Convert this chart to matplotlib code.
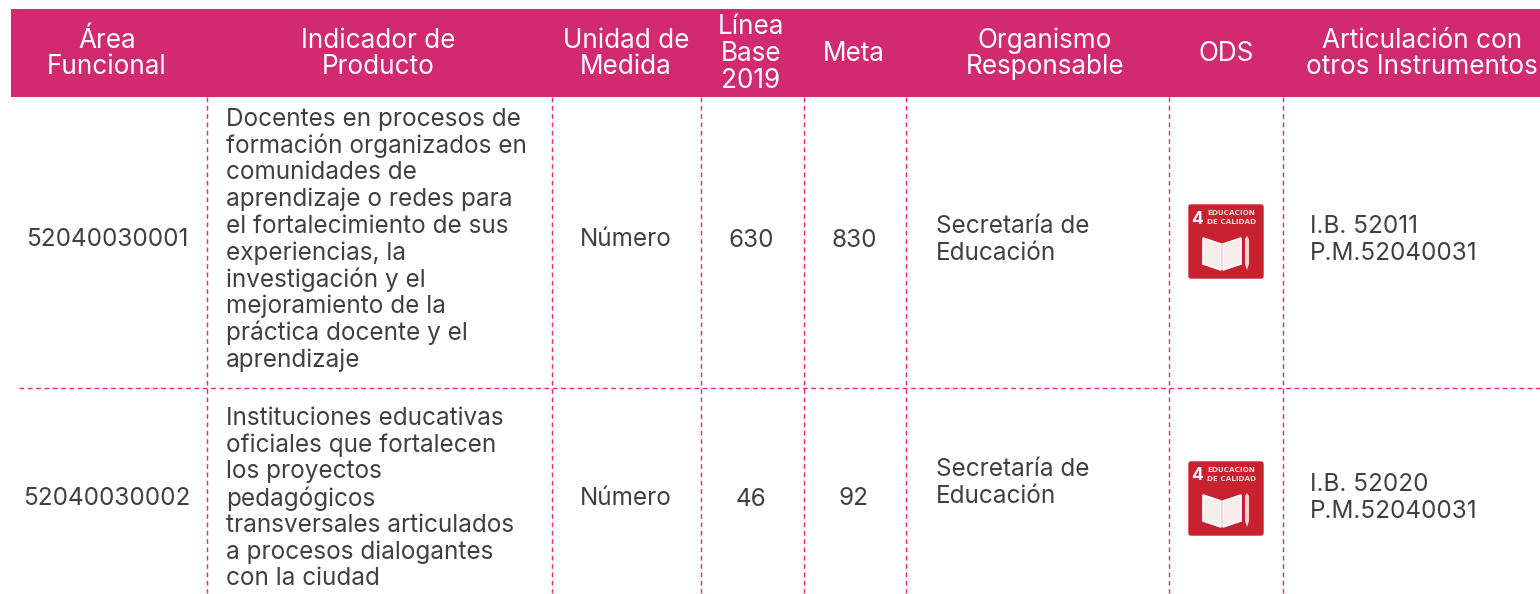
import matplotlib
matplotlib.use("Agg")
import matplotlib.pyplot as plt
from matplotlib.patches import Rectangle, FancyBboxPatch, Polygon

plt.rcParams['font.family'] = ['Inter', 'DejaVu Sans']

PINK = '#D12A70'
DASH = '#E8286F'
TEXT = '#404042'
RED = '#C8212F'

# table content
headers = [
    ["Área", "Funcional"],
    ["Indicador de", "Producto"],
    ["Unidad de", "Medida"],
    ["Línea", "Base", "2019"],
    ["Meta"],
    ["Organismo", "Responsable"],
    ["ODS"],
    ["Articulación con", "otros Instrumentos"],
]
header_x = [107, 378, 626, 751, 854, 1045, 1226, 1422]

codes = ["52040030001", "52040030002"]
units = ["Número", "Número"]
base = ["630", "46"]
meta = ["830", "92"]
organism = ["Secretaría de", "Educación"]
instruments = [["I.B. 52011", "P.M.52040031"], ["I.B. 52020", "P.M.52040031"]]
indicators = [
    ["Docentes en procesos de", "formación organizados en", "comunidades de",
     "aprendizaje o redes para", "el fortalecimiento de sus", "experiencias, la",
     "investigación y el", "mejoramiento de la", "práctica docente y el",
     "aprendizaje"],
    ["Instituciones educativas", "oficiales que fortalecen", "los proyectos",
     "pedagógicos", "transversales articulados", "a procesos dialogantes",
     "con la ciudad"],
]

col_lines = [206.5, 552, 701, 804, 906, 1169, 1283]
row_line = 388
row_mid = [238, 497]
ind_top = [118, 417]
org_mid = [238, 481]
icon_top = [204, 461]

LINE = 26.7
FS = 17.5
HEAD_FS = 18.8


def draw_lines(ax, x, y, lines, ha='left', color=TEXT, size=FS):
    for i, line in enumerate(lines):
        ax.text(x, y + 1.5 + i * LINE, line, ha=ha, va='center', color=color,
                fontsize=size, fontweight='normal')


def draw_icon(ax, x, y):
    ax.add_patch(FancyBboxPatch((x + 1, y + 1), 74, 73, boxstyle="round,pad=0,rounding_size=2",
                                fc=RED, ec=RED, lw=1))
    ax.text(x + 9.5, y + 15, "4", color='white', fontsize=12.5, fontweight='bold', ha='center', va='center')
    ax.text(x + 19, y + 9, "EDUCACIÓN", color='#F3D5D5', fontsize=5.2, fontweight='bold', va='center',
            family=['Liberation Sans Narrow', 'DejaVu Sans'])
    ax.text(x + 19, y + 18, "DE CALIDAD", color='#F3D5D5', fontsize=5.2, fontweight='bold', va='center',
            family=['Liberation Sans Narrow', 'DejaVu Sans'])
    # book
    ax.add_patch(Polygon([(x + 15, y + 34), (x + 33, y + 40), (x + 33, y + 66), (x + 15, y + 60)],
                         fc='#F8EDED', ec='white', lw=1.2))
    ax.add_patch(Polygon([(x + 35, y + 40), (x + 53, y + 34), (x + 53, y + 60), (x + 35, y + 66)],
                         fc='#F8EDED', ec='white', lw=1.2))
    # pencil
    ax.add_patch(Polygon([(x + 57, y + 35), (x + 59, y + 32), (x + 61, y + 35), (x + 61, y + 60),
                          (x + 59, y + 66), (x + 57, y + 60)], fc='#F3D5D5', ec='none'))


fig = plt.figure(figsize=(15.4, 5.94), dpi=100)
ax = fig.add_axes([0, 0, 1, 1])
ax.set_xlim(0, 1540)
ax.set_ylim(594, 0)
ax.axis('off')

ax.add_patch(Rectangle((11, 9), 1529, 88, fc=PINK, ec='none'))
for x, lines in zip(header_x, headers):
    y = 52.5 - (len(lines) - 1) * LINE / 2
    draw_lines(ax, x, y, lines, ha='center', color='white', size=HEAD_FS)

dash = (0, (3.4, 2.6))
for x in col_lines:
    ax.plot([x, x], [97, 593], color=DASH, lw=1, ls=dash)
ax.plot([19, 1540], [row_line, row_line], color=DASH, lw=1, ls=dash)

for i in range(2):
    draw_lines(ax, 107, row_mid[i], [codes[i]], ha='center')
    draw_lines(ax, 226, ind_top[i], indicators[i])
    draw_lines(ax, 626, row_mid[i], [units[i]], ha='center')
    draw_lines(ax, 751, row_mid[i] + 1, [base[i]], ha='center')
    draw_lines(ax, 854, row_mid[i] + 1 if i == 0 else row_mid[i], [meta[i]], ha='center')
    draw_lines(ax, 936, org_mid[i] - 13, organism)
    draw_icon(ax, 1188, icon_top[i])
    draw_lines(ax, 1310, row_mid[i] - 13 if i == 0 else row_mid[i] - 14, instruments[i])

fig.savefig('out.png', dpi=100)
